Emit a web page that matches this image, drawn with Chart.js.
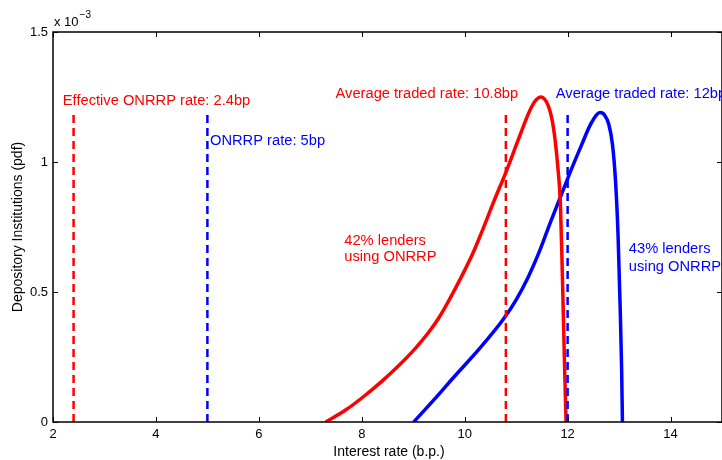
<!DOCTYPE html>
<html lang="en">
<head>
  <meta charset="UTF-8">
  <title>Depository Institutions pdf</title>
  <script src="https://cdn.jsdelivr.net/npm/chart.js"></script>
  <style>
    html, body {
      margin: 0;
      padding: 0;
      background: white;
    }
    #wrap {
      width: 722px;
      height: 460px;
    }
  </style>
</head>
<body>
  <div id="wrap"><canvas id="grafico" width="722" height="460"></canvas></div>
  <script>
    // valores em unidades de 1e-3
    const taxaVermelha = [7.30, 7.7, 8.05, 8.4, 8.70, 9.05, 9.3, 9.48, 9.7, 9.94, 10.15, 10.33, 10.58, 10.81, 11.04, 11.27, 11.38, 11.48, 11.62, 11.70, 11.76, 11.81, 11.86, 11.90, 11.94, 11.97];
    const pdfVermelha = [0, 0.048, 0.1, 0.158, 0.213, 0.285, 0.345, 0.395, 0.47, 0.56, 0.645, 0.73, 0.855, 0.965, 1.085, 1.2, 1.237, 1.25, 1.218, 1.16, 1.08, 0.98, 0.84, 0.55, 0.22, 0];

    const taxaAzul = [9.01, 9.4, 9.8, 10.3, 10.75, 11.0, 11.24, 11.46, 11.66, 11.88, 12.1, 12.27, 12.46, 12.63, 12.72, 12.80, 12.87, 12.93, 12.98, 13.02, 13.05, 13.065];
    const pdfAzul = [0, 0.085, 0.175, 0.285, 0.395, 0.47, 0.56, 0.66, 0.765, 0.875, 0.985, 1.065, 1.15, 1.19, 1.18, 1.145, 1.07, 0.93, 0.72, 0.45, 0.2, 0];

    // linhas verticais tracejadas: taxas de referência
    const taxasRef = [2.4, 5, 10.8, 12];
    const coresRef = ["red", "blue", "red", "blue"];
    const alturaRef = 1.2;

    const ticksX = [2, 4, 6, 8, 10, 12, 14];
    const ticksY = [0, 0.5, 1, 1.5];

    const textos = [
      { t: "Effective ONRRP rate: 2.4bp", x: 2.19, y: 1.235, cor: "red" },
      { t: "ONRRP rate: 5bp", x: 5.05, y: 1.081, cor: "blue" },
      { t: "Average traded rate: 10.8bp", x: 7.49, y: 1.262, cor: "red" },
      { t: "Average traded rate: 12bp", x: 11.77, y: 1.262, cor: "blue" },
      { t: "42% lenders", x: 7.66, y: 0.696, cor: "red" },
      { t: "using ONRRP", x: 7.66, y: 0.635, cor: "red" },
      { t: "43% lenders", x: 13.19, y: 0.665, cor: "blue" },
      { t: "using ONRRP", x: 13.19, y: 0.596, cor: "blue" }
    ];

    const fonte = "'Liberation Sans', Arial, sans-serif";

    function pontos(xs, ys) {
      return xs.map((x, i) => ({ x: x, y: ys[i] }));
    }

    const datasets = [];
    taxasRef.forEach((x, i) => {
      datasets.push({
        data: [{ x: x, y: 0 }, { x: x, y: alturaRef }],
        borderColor: coresRef[i],
        borderWidth: 2.5,
        borderDash: [8, 5],
        pointRadius: 0,
        showLine: true
      });
    });
    datasets.push({
      data: pontos(taxaVermelha, pdfVermelha),
      borderColor: "red",
      borderWidth: 3.5,
      pointRadius: 0,
      showLine: true,
      cubicInterpolationMode: "monotone"
    });
    datasets.push({
      data: pontos(taxaAzul, pdfAzul),
      borderColor: "blue",
      borderWidth: 3.5,
      pointRadius: 0,
      showLine: true,
      cubicInterpolationMode: "monotone"
    });

    // caixa, ticks internos e textos estilo matlab
    const molduraPlugin = {
      id: "moldura",
      afterDraw(chart) {
        const ctx = chart.ctx;
        const a = chart.chartArea;
        const sx = chart.scales.x;
        const sy = chart.scales.y;
        ctx.save();
        ctx.strokeStyle = "black";
        ctx.lineWidth = 1;
        ctx.beginPath();
        ticksX.forEach(v => {
          const px = Math.round(sx.getPixelForValue(v)) + 0.5;
          ctx.moveTo(px, a.bottom); ctx.lineTo(px, a.bottom - 5);
          ctx.moveTo(px, a.top); ctx.lineTo(px, a.top + 5);
        });
        ticksY.forEach(v => {
          const py = Math.round(sy.getPixelForValue(v)) + 0.5;
          ctx.moveTo(a.left, py); ctx.lineTo(a.left + 5, py);
          ctx.moveTo(a.right, py); ctx.lineTo(a.right - 5, py);
        });
        ctx.stroke();
        ctx.lineWidth = 1.5;
        ctx.strokeRect(a.left, a.top, a.right - a.left, a.bottom - a.top);

        ctx.textBaseline = "middle";
        ctx.textAlign = "left";
        ctx.font = "14.7px " + fonte;
        textos.forEach(tx => {
          ctx.fillStyle = tx.cor;
          ctx.fillText(tx.t, sx.getPixelForValue(tx.x), sy.getPixelForValue(tx.y));
        });

        ctx.fillStyle = "black";
        ctx.font = "13px " + fonte;
        ctx.fillText("x 10", a.left + 1, a.top - 10);
        const w = ctx.measureText("x 10").width;
        ctx.font = "10px " + fonte;
        ctx.fillText("\u22123", a.left + 1 + w + 1, a.top - 17);

        ctx.font = "14px " + fonte;
        ctx.textAlign = "center";
        ctx.fillText("Interest rate (b.p.)", 389, 452);
        ctx.translate(18, (a.top + a.bottom) / 2);
        ctx.rotate(-Math.PI / 2);
        ctx.fillText("Depository Institutions (pdf)", 0, 0);
        ctx.restore();
      }
    };

    new Chart(document.getElementById("grafico"), {
      type: "scatter",
      data: { datasets: datasets },
      options: {
        responsive: false,
        animation: false,
        layout: { padding: { top: 32, right: 0, left: 0, bottom: 0 } },
        plugins: {
          legend: { display: false },
          tooltip: { enabled: false }
        },
        scales: {
          x: {
            type: "linear",
            min: 2,
            max: 15,
            afterFit: s => { s.height = 38; },
            afterBuildTicks: s => { s.ticks = ticksX.map(v => ({ value: v })); },
            grid: { display: false, drawTicks: false },
            border: { display: false },
            ticks: { color: "black", padding: 5, font: { size: 13, family: fonte } }
          },
          y: {
            min: 0,
            max: 1.5,
            afterFit: s => { s.width = 53; },
            afterBuildTicks: s => { s.ticks = ticksY.map(v => ({ value: v })); },
            grid: { display: false, drawTicks: false },
            border: { display: false },
            ticks: {
              color: "black",
              padding: 5,
              font: { size: 13, family: fonte },
              callback: v => String(v)
            }
          }
        }
      },
      plugins: [molduraPlugin]
    });
  </script>
</body>
</html>
